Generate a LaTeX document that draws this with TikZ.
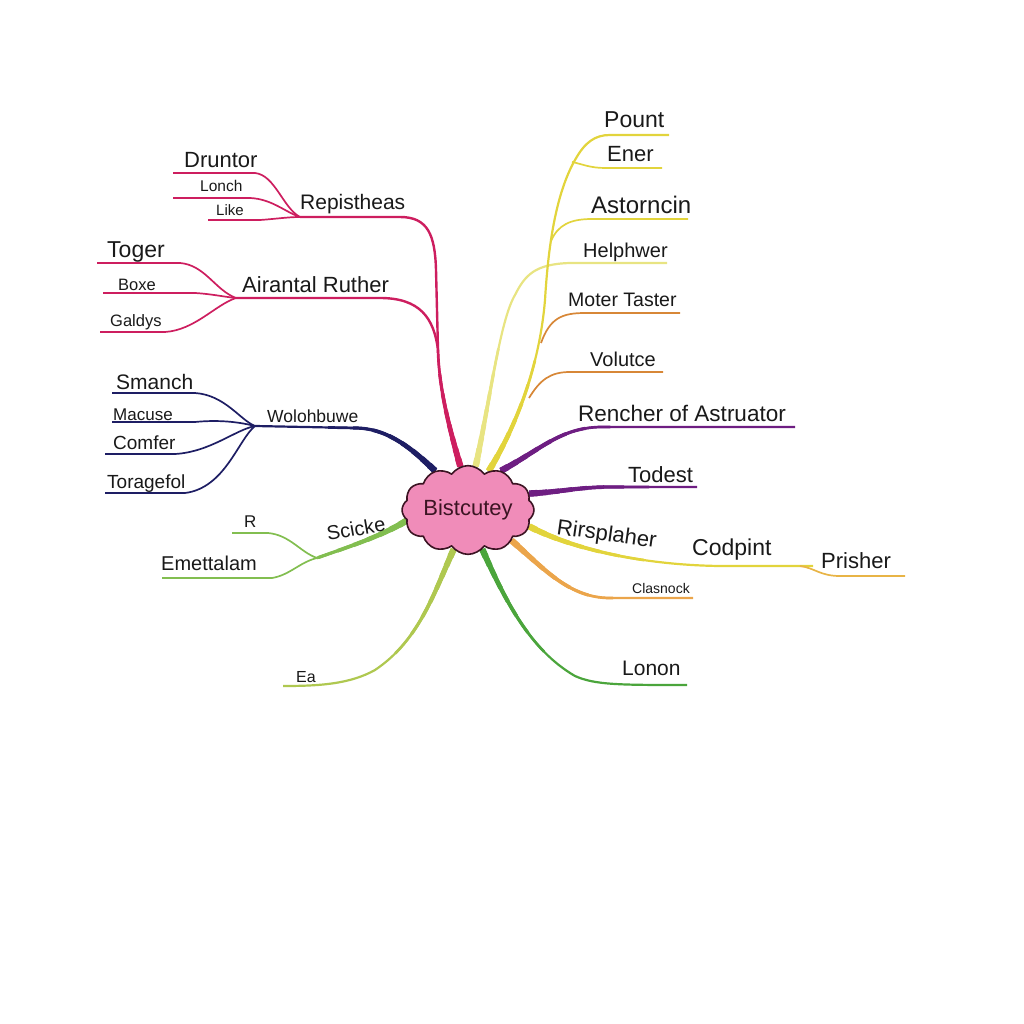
\documentclass[tikz,border=0pt]{standalone}
\usepackage{fontspec}
\setmainfont{Liberation Sans}
\usetikzlibrary{shapes.symbols}
\definecolor{ink}{RGB}{25,25,25}
\definecolor{magc}{RGB}{205,30,95}
\definecolor{navyc}{RGB}{30,30,100}
\definecolor{grnc}{RGB}{130,190,80}
\definecolor{ygrnc}{RGB}{175,200,80}
\definecolor{dgrnc}{RGB}{75,165,60}
\definecolor{pyelc}{RGB}{232,228,130}
\definecolor{ylwc}{RGB}{226,212,60}
\definecolor{orngc}{RGB}{215,135,55}
\definecolor{clorc}{RGB}{235,165,75}
\definecolor{prshc}{RGB}{232,180,70}
\definecolor{purpc}{RGB}{110,30,130}
\definecolor{cloudpink}{RGB}{240,140,185}
\definecolor{clouddark}{RGB}{60,20,35}
\pgfdeclarelayer{bg}
\pgfsetlayers{bg,main}
\newcommand\tapered[2]{%
  \draw[#1,line width=2.2pt] #2;
  \draw[#1,line width=2.7pt,dash pattern=on 120pt off 3000pt] #2;
  \draw[#1,line width=3.2pt,dash pattern=on 95pt off 3000pt] #2;
  \draw[#1,line width=3.7pt,dash pattern=on 75pt off 3000pt] #2;
  \draw[#1,line width=4.2pt,dash pattern=on 58pt off 3000pt] #2;
  \draw[#1,line width=4.7pt,dash pattern=on 43pt off 3000pt] #2;
  \draw[#1,line width=5.2pt,dash pattern=on 30pt off 3000pt] #2;
  \draw[#1,line width=5.8pt,dash pattern=on 18pt off 3000pt] #2;
  \draw[#1,line width=6.4pt,dash pattern=on 8pt off 3000pt] #2;
}
\begin{document}
\begin{tikzpicture}[x=1pt,y=-1pt,line cap=round,line join=round,
  lab/.style={font=\fontsize{#1}{#1}\selectfont,inner sep=0pt,anchor=base west,text=ink},
  sub/.style={line width=1.7pt},
  arm/.style={line width=2.4pt}]
\useasboundingbox (0,0) rectangle (1024,1024);
\node[cloud,cloud puffs=12,cloud puff arc=110,aspect=1.7,minimum width=128pt,minimum height=80pt,
  fill=cloudpink,draw=clouddark,line width=1.6pt,inner sep=0pt,
  font=\fontsize{22}{22}\selectfont,text=clouddark] (cl) at (468,510) {Bistcutey};
% junctions
\coordinate (mj) at (438,350);
\coordinate (rj) at (300,217);
\coordinate (aj) at (236,298);
\coordinate (wj) at (255,426);
\coordinate (sj) at (317,558);
\coordinate (pj) at (800,566);
\coordinate (ej) at (572,162);
\coordinate (aj2) at (551,241);
\coordinate (mtj) at (541,343);
\coordinate (vj) at (529,398);
% labels
\node[lab=22] (druntor) at (184,168) {Druntor};
\node[lab=15.5] (lonch) at (200,192) {Lonch};
\node[lab=15] (like) at (216,215) {Like};
\node[lab=21] (repistheas) at (300,210) {Repistheas};
\node[lab=23] (toger) at (107,257) {Toger};
\node[lab=16.5] (boxe) at (118,290) {Boxe};
\node[lab=16.5] (galdys) at (110,326) {Galdys};
\node[lab=22] (airantal) at (242,292) {Airantal Ruther};
\node[lab=21] (smanch) at (116,389) {Smanch};
\node[lab=17] (macuse) at (113,420) {Macuse};
\node[lab=19] (comfer) at (113,449) {Comfer};
\node[lab=19] (toragefol) at (107,488) {Toragefol};
\node[lab=17.5] (wolohbuwe) at (267,422) {Wolohbuwe};
\node[lab=17] (r) at (244,527) {R};
\node[lab=20] (emettalam) at (161,570) {Emettalam};
\node[lab=20,rotate=10] (scicke) at (328,541) {Scicke};
\node[lab=16] (ea) at (296,682) {Ea};
\node[lab=23] (pount) at (604,128) {Pount};
\node[lab=22] (ener) at (607,162) {Ener};
\node[lab=24] (astorncin) at (591,214) {Astorncin};
\node[lab=20] (helphwer) at (583,257) {Helphwer};
\node[lab=19.5] (moter) at (568,306) {Moter Taster};
\node[lab=20] (volutce) at (590,366) {Volutce};
\node[lab=22.5] (rencher) at (578,421) {Rencher of Astruator};
\node[lab=22] (todest) at (628,482) {Todest};
\node[lab=22,rotate=-8] (rirsplaher) at (556,534) {Rirsplaher};
\node[lab=23] (codpint) at (692,555) {Codpint};
\node[lab=22] (prisher) at (821,568) {Prisher};
\node[lab=14] (clasnock) at (632,593) {Clasnock};
\node[lab=21] (lonon) at (622,675) {Lonon};
\begin{pgfonlayer}{bg}
% magenta group
\tapered{magc}{(cl.100) .. controls (450,430) and (439,390) .. (mj)}
\draw[magc,arm] (rj) -- (400,217) .. controls (428,217) and (435,235) .. (436,270) -- (mj);
\draw[magc,arm] (aj) -- (380,298) .. controls (420,298) and (434,318) .. (mj);
\draw[magc,sub] (173,173) -- (255,173) .. controls (275,175) and (283,208) .. (rj);
\draw[magc,sub] (173,198) -- (250,198) .. controls (272,199) and (285,212) .. (rj);
\draw[magc,sub] (208,220) -- (260,220) .. controls (275,219) and (288,217) .. (rj);
\draw[magc,sub] (97,263) -- (180,263) .. controls (205,265) and (215,290) .. (aj);
\draw[magc,sub] (103,293) -- (195,293) .. controls (212,294) and (225,297) .. (aj);
\draw[magc,sub] (100,332) -- (165,332) .. controls (195,330) and (215,305) .. (aj);
% navy group
\tapered{navyc}{(cl.130) .. controls (415,452) and (390,428) .. (355,428) -- (wj)}
\draw[navyc,sub] (112,393) -- (195,393) .. controls (225,395) and (240,420) .. (wj);
\draw[navyc,sub] (112,422) -- (195,422) .. controls (215,420) and (235,421) .. (wj);
\draw[navyc,sub] (105,454) -- (175,454) .. controls (210,452) and (235,430) .. (wj);
\draw[navyc,sub] (105,493) -- (185,493) .. controls (225,488) and (238,440) .. (wj);
% green Scicke group
\tapered{grnc}{(cl.190) .. controls (380,537) and (345,548) .. (sj)}
\draw[grnc,sub] (232,533) -- (268,533) .. controls (290,535) and (300,552) .. (sj);
\draw[grnc,sub] (162,578) -- (272,578) .. controls (290,575) and (300,562) .. (sj);
% Ea
\tapered{ygrnc}{(cl.-110) .. controls (435,590) and (420,640) .. (375,670) .. controls (350,684) and (320,686) .. (283,686)}
% Lonon
\tapered{dgrnc}{(cl.-70) .. controls (505,600) and (530,650) .. (575,676) .. controls (595,685) and (620,685) .. (687,685)}
% Clasnock
\tapered{clorc}{(cl.-35) .. controls (545,570) and (570,598) .. (610,598) -- (693,598)}
% Rirsplaher / Codpint / Prisher
\tapered{ylwc}{(cl.-15) .. controls (570,548) and (640,565) .. (720,566) -- (813,566)}
\draw[prshc,sub] (pj) .. controls (815,568) and (820,576) .. (840,576) -- (905,576);
% purple
\tapered{purpc}{(cl.15) .. controls (560,492) and (580,487) .. (610,487) -- (697,487)}
\tapered{purpc}{(cl.50) .. controls (540,450) and (560,428) .. (600,427) -- (795,427)}
% pale yellow Helphwer
\tapered{pyelc}{(cl.80) .. controls (490,400) and (500,320) .. (515,295) .. controls (525,275) and (535,264) .. (570,263) -- (667,263)}
% yellow trunk
\tapered{ylwc}{(cl.62) .. controls (520,420) and (540,360) .. (545,300) .. controls (548,250) and (555,195) .. (575,160) .. controls (585,142) and (595,135) .. (610,135) -- (669,135)}
\draw[ylwc,sub] (ej) .. controls (582,164) and (590,168) .. (605,168) -- (662,168);
\draw[ylwc,sub] (aj2) .. controls (558,225) and (570,219) .. (592,219) -- (688,219);
\draw[orngc,sub] (mtj) .. controls (550,318) and (562,313) .. (585,313) -- (680,313);
\draw[orngc,sub] (vj) .. controls (540,380) and (550,372) .. (570,372) -- (663,372);
\end{pgfonlayer}
\end{tikzpicture}
\end{document}
